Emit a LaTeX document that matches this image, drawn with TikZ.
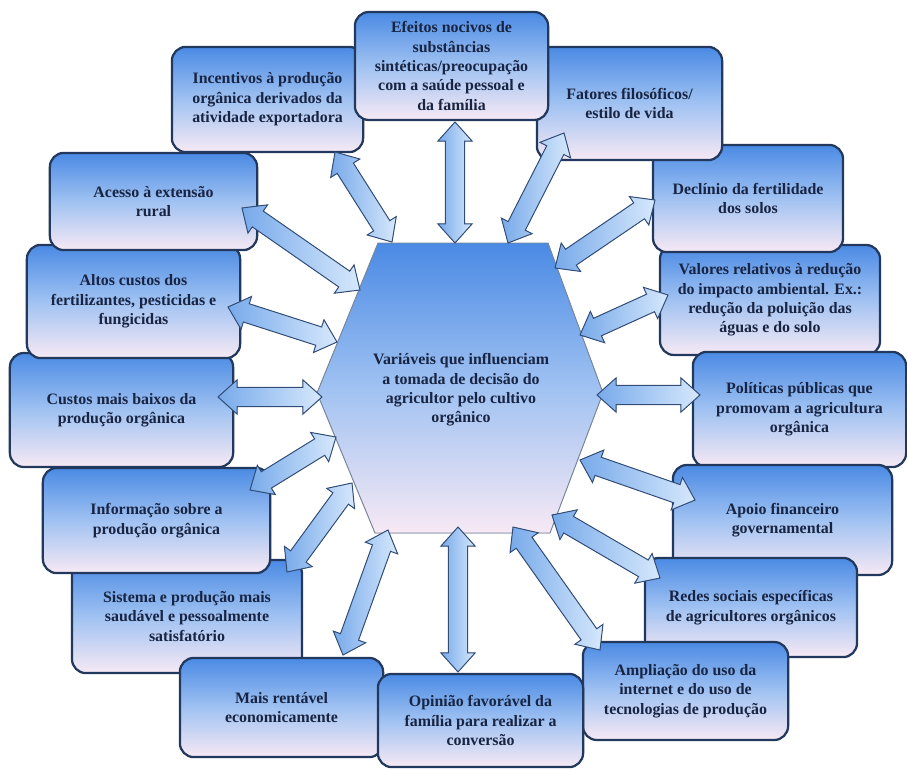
\documentclass[tikz,border=0pt]{standalone}
\usepackage{fontspec}
\setmainfont{Liberation Serif}
\usetikzlibrary{calc}
\definecolor{boxtop}{RGB}{74,138,228}
\definecolor{boxmid}{RGB}{160,194,242}
\definecolor{boxbot}{RGB}{247,233,244}
\definecolor{boxline}{RGB}{34,56,92}
\definecolor{boxtext}{RGB}{24,36,66}
\definecolor{arrlight}{RGB}{214,232,252}
\definecolor{arrdark}{RGB}{120,170,234}
\definecolor{arrline}{RGB}{50,78,120}
\tikzset{
  varbox/.style={draw=boxline, line width=1.6pt, rounded corners=0.35cm,
    top color=boxtop, bottom color=boxbot, middle color=boxmid,
    text=boxtext, font=\fontsize{11.3}{13.8}\selectfont\bfseries,
    align=center, inner sep=2pt},
  hexface/.style={draw=boxline!60, line width=0.7pt,
    top color=boxtop, bottom color=boxbot, middle color=boxmid},
  fatarrow/.style={draw=arrline, line width=0.7pt, line join=miter,
    left color=arrdark, right color=arrlight},
}
% fat double arrow between two named points
\newcommand{\fatarrow}[2]{%
  \coordinate (fa-a) at ($(#1)!0.48cm!(#2)$);
  \coordinate (fa-b) at ($(#2)!0.48cm!(#1)$);
  \filldraw[fatarrow] (#1)
    -- ($(fa-a)!0.43cm!90:(#2)$) -- ($(fa-a)!0.24cm!90:(#2)$)
    -- ($(fa-b)!0.24cm!-90:(#1)$) -- ($(fa-b)!0.43cm!-90:(#1)$)
    -- (#2)
    -- ($(fa-b)!0.43cm!90:(#1)$) -- ($(fa-b)!0.24cm!90:(#1)$)
    -- ($(fa-a)!0.24cm!-90:(#2)$) -- ($(fa-a)!0.43cm!-90:(#2)$)
    -- cycle;}
\begin{document}
\begin{tikzpicture}[x=0.025cm, y=-0.025cm]
  \useasboundingbox (0,0) rectangle (907,769);
  % hexagon
  \coordinate (hx1) at (378,243);
  \coordinate (hx2) at (548,243);
  \coordinate (hx3) at (603,393);
  \coordinate (hx4) at (550,533);
  \coordinate (hx5) at (375,533);
  \coordinate (hx6) at (317,393);
  \filldraw[hexface] (hx1) -- (hx2) -- (hx3) -- (hx4) -- (hx5) -- (hx6) -- cycle;
  \node[text=boxtext, font=\fontsize{11.3}{13.8}\selectfont\bfseries, align=center] (centro) at (461,390)
    {Variáveis que influenciam\\a tomada de decisão do\\agricultor pelo cultivo\\orgânico};
  % boxes
  \node[varbox, minimum width=5.50cm, minimum height=2.75cm] (valores) at (770,300)
    {Valores relativos à redução\\do impacto ambiental. Ex.:\\redução da poluição das\\águas e do solo};
  \node[varbox, minimum width=4.75cm, minimum height=2.68cm] (declinio) at (748,198.5)
    {Declínio da fertilidade\\dos solos};
  \node[varbox, minimum width=4.63cm, minimum height=2.83cm] (fatores) at (629.5,103.5)
    {Fatores filosóficos/\\estilo de vida};
  \node[varbox, minimum width=4.78cm, minimum height=2.63cm] (incentivos) at (267.5,99.5)
    {Incentivos à produção\\orgânica derivados da\\atividade exportadora};
  \node[varbox, minimum width=4.83cm, minimum height=2.70cm] (efeitos) at (451.5,66)
    {Efeitos nocivos de\\substâncias\\sintéticas/preocupação\\com a saúde pessoal e\\da família};
  \node[varbox, minimum width=5.33cm, minimum height=2.88cm] (politicas) at (799.5,409.5)
    {Políticas públicas que\\promovam a agricultura\\orgânica};
  \node[varbox, minimum width=5.48cm, minimum height=2.75cm] (apoio) at (782.5,520)
    {Apoio financeiro\\governamental};
  \node[varbox, minimum width=5.30cm, minimum height=2.48cm] (redes) at (751,607.5)
    {Redes sociais específicas\\de agricultores orgânicos};
  \node[varbox, minimum width=5.13cm, minimum height=2.45cm] (ampliacao) at (685.5,691)
    {Ampliação do uso da\\internet e do uso de\\tecnologias de produção};
  \node[varbox, minimum width=5.58cm, minimum height=2.85cm] (custos) at (121.5,410)
    {Custos mais baixos da\\produção orgânica};
  \node[varbox, minimum width=5.75cm, minimum height=2.83cm] (sistema) at (187,616.5)
    {Sistema e produção mais\\saudável e pessoalmente\\satisfatório};
  \node[varbox, minimum width=5.68cm, minimum height=2.63cm] (informacao) at (156.5,520.5)
    {Informação sobre a\\produção orgânica};
  \node[varbox, minimum width=5.33cm, minimum height=2.83cm] (altos) at (133.5,301.5)
    {Altos custos dos\\fertilizantes, pesticidas e\\fungicidas};
  \node[varbox, minimum width=5.18cm, minimum height=2.43cm] (acesso) at (153.5,201.5)
    {Acesso à extensão\\rural};
  \node[varbox, minimum width=5.08cm, minimum height=2.48cm] (rentavel) at (281.5,707.5)
    {Mais rentável\\economicamente};
  \node[varbox, minimum width=5.13cm, minimum height=2.33cm] (opiniao) at (480.5,720.5)
    {Opinião favorável da\\família para realizar a\\conversão};
  % arrows: box end / hexagon end
  \foreach \name/\bx/\by/\hx/\hy in {
      acesso/242/208/360/290, altos/228/307/337/342, custos/218/397/322/397,
      informacao/250/490/336/437, sistema/287/572/352/483, rentavel/343/655/388/530,
      opiniao/458/672/458/527, ampliacao/600/650/513/527, redes/660/578/552/515,
      apoio/695/500/580/460, politicas/700/395/597/395, valores/668/295/580/335,
      declinio/655/200/555/268, fatores/564/133/508/243, efeitos/455/122/455/243,
      incentivos/335/152/392/242}{
    \coordinate (b-\name) at (\bx,\by);
    \coordinate (h-\name) at (\hx,\hy);
    \fatarrow{b-\name}{h-\name}
  }
\end{tikzpicture}
\end{document}
